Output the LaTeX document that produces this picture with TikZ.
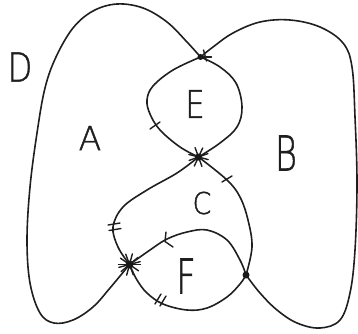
\documentclass[tikz,border=0pt]{standalone}
\usepackage{fontspec}
\setmainfont{Liberation Sans}
\newfontfamily\hand[BoldFont={DejaVu Sans ExtraLight},BoldFeatures={FakeBold=1.3}]{DejaVu Sans ExtraLight}
\usetikzlibrary{calc}
\begin{document}
\begin{tikzpicture}[x=1pt,y=-1pt,
  edge/.style={line width=1.6pt,color=black!88,line cap=round,line join=round},
  tickmark/.style={line width=1.4pt,color=black!88,line cap=round},
  vdot/.style={fill=black!90},
  lbl/.style={inner sep=0pt,text=black!88}]
\useasboundingbox (0,0) rectangle (358,333);
\coordinate (P1) at (200.5,57);
\coordinate (P2) at (198.5,157);
\coordinate (P3) at (129.5,264.5);
\coordinate (P4) at (246,275);
% left big loop
\draw[edge] plot[smooth,tension=0.6] coordinates {(P1) (187,42) (167,22) (143,8) (117,4) (93,11) (73,28) (56,57) (45,88) (37,133) (30,187) (27,240) (30,283) (40,313) (54,323) (73,320) (93,307) (110,288) (P3)};
% right big loop
\draw[edge] plot[smooth,tension=0.6] coordinates {(P1) (213,47) (233,33) (260,22) (290,20) (320,27) (343,43) (352,67) (355,117) (357,183) (355,250) (350,293) (340,320) (320,328) (297,323) (277,310) (260,293) (P4)};
% E loop
\draw[edge] plot[smooth,tension=0.6] coordinates {(P1) (173,70) (153,86) (147,100) (150,114) (160,130) (180,147) (P2)};
\draw[edge] plot[smooth,tension=0.6] coordinates {(P1) (220,67) (236,83) (242,107) (237,127) (220,143) (P2)};
% C loop
\draw[edge] plot[smooth,tension=0.6] coordinates {(P2) (177,173) (147,190) (123,207) (113,227) (118,247) (P3)};
\draw[edge] plot[smooth,tension=0.6] coordinates {(P2) (227,180) (240,197) (248,220) (252,247) (P4)};
% F loop
\draw[edge] plot[smooth,tension=0.6] coordinates {(P3) (150,250) (167,239) (187,232) (207,230) (227,240) (240,260) (P4)};
\draw[edge] plot[smooth,tension=0.6] coordinates {(P3) (137,280) (147,293) (163,304) (187,310) (207,308) (227,297) (240,284) (P4)};
% tick marks
\draw[tickmark] (150,129) -- (160,122);
\draw[tickmark] (222,182) -- (232,176);
\draw[tickmark] (108,225) -- (120,223);
\draw[tickmark] (109,230.5) -- (121,228.5);
\draw[tickmark] (155,304) -- (161,294);
\draw[tickmark] (160,306) -- (166,296);
% arrowhead on F top
\draw[tickmark] (166,232) -- (165,241.5) -- (173,247);
% vertex marks
\draw[tickmark] (P1) -- ++(11,0);
\draw[tickmark] ($(P1)+(3,-7)$) -- ($(P1)+(6,4)$);
\foreach \a in {15,70,115,160} \draw[tickmark] ($(P2)+(\a:10)$) -- ($(P2)+(\a+180:10)$);
\foreach \a in {0,35,70,105,140,165} \draw[tickmark] ($(P3)+(\a:11)$) -- ($(P3)+(\a+180:11)$);
\fill[vdot] (P1) circle (3);
\fill[vdot] (P2) circle (3.5);
\fill[vdot] (P3) circle (4);
\fill[vdot] (P4) circle (3.5);
% labels
\node[lbl,font=\hand\bfseries\fontsize{40}{40}\selectfont,xscale=0.8] (lD) at (20,67) {D};
\node[lbl,font=\hand\bfseries\fontsize{33}{33}\selectfont] (lA) at (90,138) {A};
\node[lbl,font=\hand\bfseries\fontsize{38}{38}\selectfont,xscale=0.8] (lE) at (195,104) {E};
\node[lbl,font=\hand\bfseries\fontsize{48}{48}\selectfont,xscale=0.7] (lB) at (286,153) {B};
\node[lbl,font=\hand\bfseries\fontsize{30}{30}\selectfont,xscale=0.9] (lC) at (202,203) {C};
\node[lbl,font=\hand\bfseries\fontsize{48}{48}\selectfont,xscale=0.7] (lF) at (186,276) {F};
\end{tikzpicture}
\end{document}
